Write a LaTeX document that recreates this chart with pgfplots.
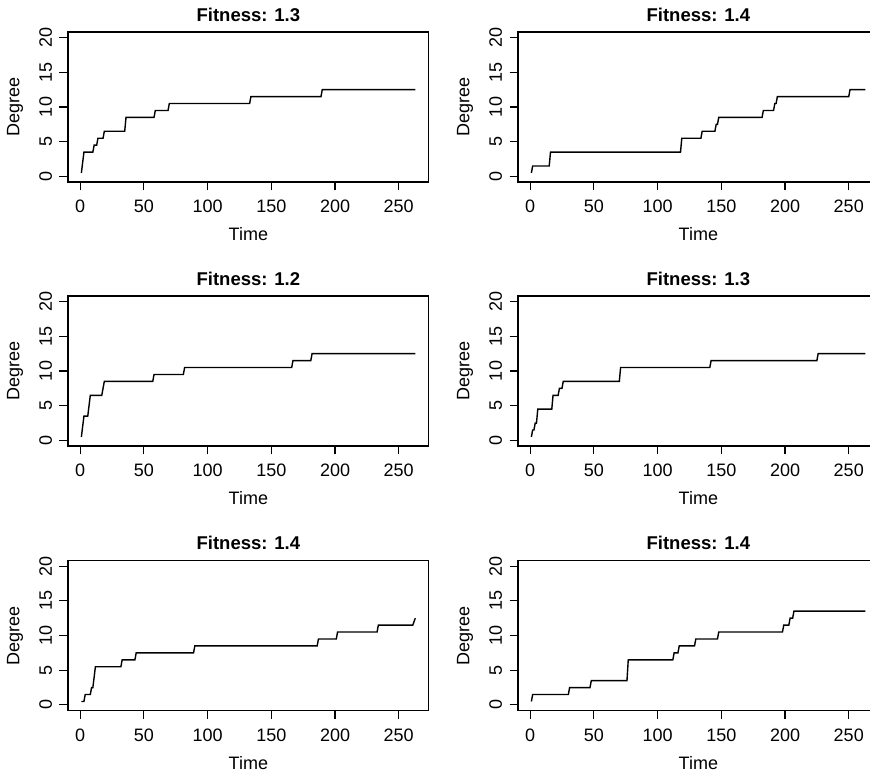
\documentclass[border=0pt]{standalone}
\usepackage{pgfplots}
\pgfplotsset{compat=1.18}
\usepackage{fontspec}
\setmainfont{Liberation Sans}
\pgfplotsset{
  rpanel/.style={
    scale only axis,
    width=360.7pt, height=150pt,
    xmin=-9.5, xmax=273.5, ymin=-0.8, ymax=20.8,
    xtick={0,50,100,150,200,250},
    ytick={0,5,10,15,20},
    tick align=outside,
    xtick pos=left, ytick pos=left,
    major tick length=8.5pt,
    tick style={line width=1.1pt, black},
    axis line style={line width=1.1pt, black},
    /pgf/number format/assume math mode=true,
    ticklabel style={font=\fontsize{18}{21.6}\selectfont},
    xticklabel shift=6pt,
    yticklabel shift=4pt,
    yticklabel style={rotate=90, anchor=south},
    label style={font=\fontsize{18}{21.6}\selectfont},
    xlabel={Time}, ylabel={Degree},
    xlabel style={at={(axis description cs:0.5,-0.349)}, anchor=center},
    ylabel style={at={(axis description cs:-0.147,0.5)}, anchor=center},
    title style={at={(axis description cs:0.5,1.077)}, anchor=center,
      font=\bfseries\fontsize{18.5}{22}\selectfont},
    every axis plot post/.append style={black, line width=1.4pt, mark=none},
  }
}
\begin{document}
\begin{tikzpicture}
\path[use as bounding box] (0pt,0pt) rectangle (870pt,773pt);
\begin{scope}[overlay]
% Row 1 left
\begin{axis}[rpanel, at={(68pt,591pt)}, anchor=south west, title={Fitness: 1.3}]
\addplot coordinates {(1,0.5) (3,3.5) (10,3.5) (11,4.5) (13,4.5) (14,5.5) (18,5.5) (19,6.5) (35,6.5) (36,8.5) (58,8.5) (59,9.5) (69,9.5) (70,10.5) (133,10.5) (134,11.5) (189,11.5) (190,12.5) (263,12.5)};
\end{axis}
% Row 1 right
\begin{axis}[rpanel, at={(518pt,591pt)}, anchor=south west, title={Fitness: 1.4}]
\addplot coordinates {(1,0.5) (2,1.5) (15,1.5) (16,3.5) (118,3.5) (119,5.5) (134,5.5) (135,6.5) (145,6.5) (146,7.5) (147,7.5) (148,8.5) (182,8.5) (183,9.5) (191,9.5) (192,10.5) (193,10.5) (194,11.5) (250,11.5) (251,12.5) (263,12.5)};
\end{axis}
% Row 2 left
\begin{axis}[rpanel, at={(68pt,327pt)}, anchor=south west, title={Fitness: 1.2}]
\addplot coordinates {(1,0.5) (3,3.5) (6,3.5) (8,6.5) (17,6.5) (19,8.5) (57,8.5) (58,9.5) (81,9.5) (82,10.5) (166,10.5) (167,11.5) (181,11.5) (182,12.5) (263,12.5)};
\end{axis}
% Row 2 right
\begin{axis}[rpanel, at={(518pt,327pt)}, anchor=south west, title={Fitness: 1.3}]
\addplot coordinates {(1,0.5) (2,1.5) (3,1.5) (4,2.5) (5,2.5) (6,4.5) (17,4.5) (18,6.5) (22,6.5) (23,7.5) (25,7.5) (26,8.5) (70,8.5) (71,10.5) (141,10.5) (142,11.5) (225,11.5) (226,12.5) (263,12.5)};
\end{axis}
% Row 3 left
\begin{axis}[rpanel, at={(68pt,62.5pt)}, anchor=south west, title={Fitness: 1.4}]
\addplot coordinates {(1,0.5) (3,0.5) (4,1.5) (8,1.5) (9,2.5) (10,2.5) (12,5.5) (32,5.5) (33,6.5) (43,6.5) (44,7.5) (89,7.5) (90,8.5) (186,8.5) (187,9.5) (201,9.5) (202,10.5) (233,10.5) (234,11.5) (261,11.5) (263,12.5)};
\end{axis}
% Row 3 right
\begin{axis}[rpanel, at={(518pt,62.5pt)}, anchor=south west, title={Fitness: 1.4}]
\addplot coordinates {(1,0.5) (2,1.5) (30,1.5) (31,2.5) (47,2.5) (48,3.5) (76,3.5) (77,6.5) (112,6.5) (113,7.5) (116,7.5) (117,8.5) (129,8.5) (130,9.5) (147,9.5) (148,10.5) (198,10.5) (199,11.5) (203,11.5) (204,12.5) (206,12.5) (207,13.5) (263,13.5)};
\end{axis}
\end{scope}
\end{tikzpicture}
\end{document}
